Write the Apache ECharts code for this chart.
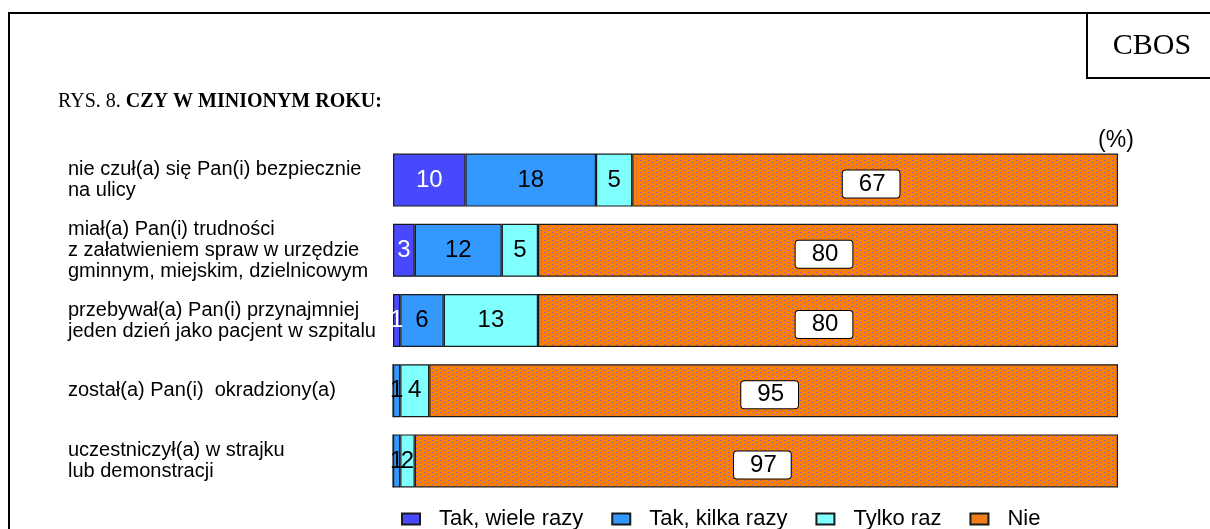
<!DOCTYPE html>
<html>
<head>
<meta charset="utf-8">
<script src="https://cdn.jsdelivr.net/npm/echarts@6/dist/echarts.min.js"></script>
<style>
html,body{margin:0;padding:0;background:#fff;}
#chart{width:1210px;height:529px;}
</style>
</head>
<body>
<div id="chart"></div>
<script>
// ---- data ----
var categories = [
  'nie czuł(a) się Pan(i) bezpiecznie\nna ulicy',
  'miał(a) Pan(i) trudności\nz załatwieniem spraw w urzędzie\ngminnym, miejskim, dzielnicowym',
  'przebywał(a) Pan(i) przynajmniej\njeden dzień jako pacjent w szpitalu',
  'został(a) Pan(i)  okradziony(a)',
  'uczestniczył(a) w strajku\nlub demonstracji'
];
var seriesNames = ['Tak, wiele razy', 'Tak, kilka razy', 'Tylko raz', 'Nie'];
var takWiele = [10, 3, 1, 0, 0];
var takKilka = [18, 12, 6, 1, 1];
var tylkoRaz = [5, 5, 13, 4, 2];
var nie = [67, 80, 80, 95, 97];

// ---- pattern for "Nie" ----
function makePattern() {
  var c = document.createElement('canvas');
  c.width = 8; c.height = 4;
  var g = c.getContext('2d');
  g.fillStyle = '#FF8000';
  g.fillRect(0, 0, 8, 4);
  g.fillStyle = '#8E6AD8';
  g.fillRect(0, 0, 2, 1);
  g.fillRect(4, 2, 2, 1);
  return {image: c, repeat: 'repeat'};
}

var chart = echarts.init(document.getElementById('chart'));
var fnt = '"Liberation Sans", Arial, sans-serif';
var tnr = '"Liberation Serif", "Times New Roman", serif';

function lbl(color) {
  return {
    show: true, position: 'inside', color: color, fontSize: 24, fontFamily: fnt,
    formatter: function (p) { return p.value ? String(p.value) : ''; }
  };
}
var border = {borderColor: '#1a1a1a', borderWidth: 1.2};

var option = {
  animation: false,
  backgroundColor: '#fff',
  grid: {left: 393, top: 145, width: 725, height: 351},
  xAxis: {type: 'value', min: 0, max: 100, show: false},
  yAxis: {
    type: 'category', data: categories, inverse: true,
    axisLine: {show: false}, axisTick: {show: false}, splitLine: {show: false},
    axisLabel: {align: 'left', margin: 325, fontSize: 20, lineHeight: 21, color: '#000', fontFamily: fnt}
  },
  legend: {
    left: 396, top: 503, itemWidth: 18, itemHeight: 11, itemGap: 28, icon: 'rect',
    textStyle: {fontSize: 22, color: '#000', fontFamily: fnt, padding: [0, 0, 0, 14]},
    data: seriesNames
  },
  series: [
    {name: seriesNames[0], type: 'bar', stack: 't', barWidth: 53, data: takWiele,
      itemStyle: Object.assign({color: '#4848FF'}, border), label: lbl('#fff')},
    {name: seriesNames[1], type: 'bar', stack: 't', barWidth: 53, data: takKilka,
      itemStyle: Object.assign({color: '#3399FF'}, border), label: lbl('#000')},
    {name: seriesNames[2], type: 'bar', stack: 't', barWidth: 53, data: tylkoRaz,
      itemStyle: Object.assign({color: '#80FFFF'}, border), label: lbl('#000')},
    {name: seriesNames[3], type: 'bar', stack: 't', barWidth: 53, data: nie,
      itemStyle: Object.assign({color: makePattern()}, border),
      label: Object.assign(lbl('#000'), {
        backgroundColor: '#fff', borderColor: '#000', borderWidth: 1, borderRadius: 3,
        padding: [3, 14, 0, 16], offset: [-4, 4]
      })}
  ],
  graphic: [
    {type: 'rect', shape: {x: 9, y: 13, width: 1230, height: 540}, style: {fill: 'none', stroke: '#000', lineWidth: 2}, silent: true},
    {type: 'rect', shape: {x: 1087, y: 13, width: 200, height: 65}, style: {fill: 'none', stroke: '#000', lineWidth: 2}, silent: true},
    {type: 'text', x: 1152, y: 46, style: {text: 'CBOS', fontSize: 30, fontFamily: tnr, fill: '#000', align: 'center', verticalAlign: 'middle'}},
    {type: 'text', x: 58, y: 102, style: {
      text: '{n|RYS. 8. }{b|CZY W MINIONYM ROKU:}', verticalAlign: 'middle',
      rich: {n: {fontSize: 20, fontFamily: tnr, fill: '#000'}, b: {fontSize: 20, fontFamily: tnr, fontWeight: 'bold', fill: '#000'}}
    }},
    {type: 'text', x: 1116, y: 141, style: {text: '(%)', fontSize: 23, fontFamily: fnt, fill: '#000', align: 'center', verticalAlign: 'middle'}}
  ]
};
chart.setOption(option);
</script>
</body>
</html>
